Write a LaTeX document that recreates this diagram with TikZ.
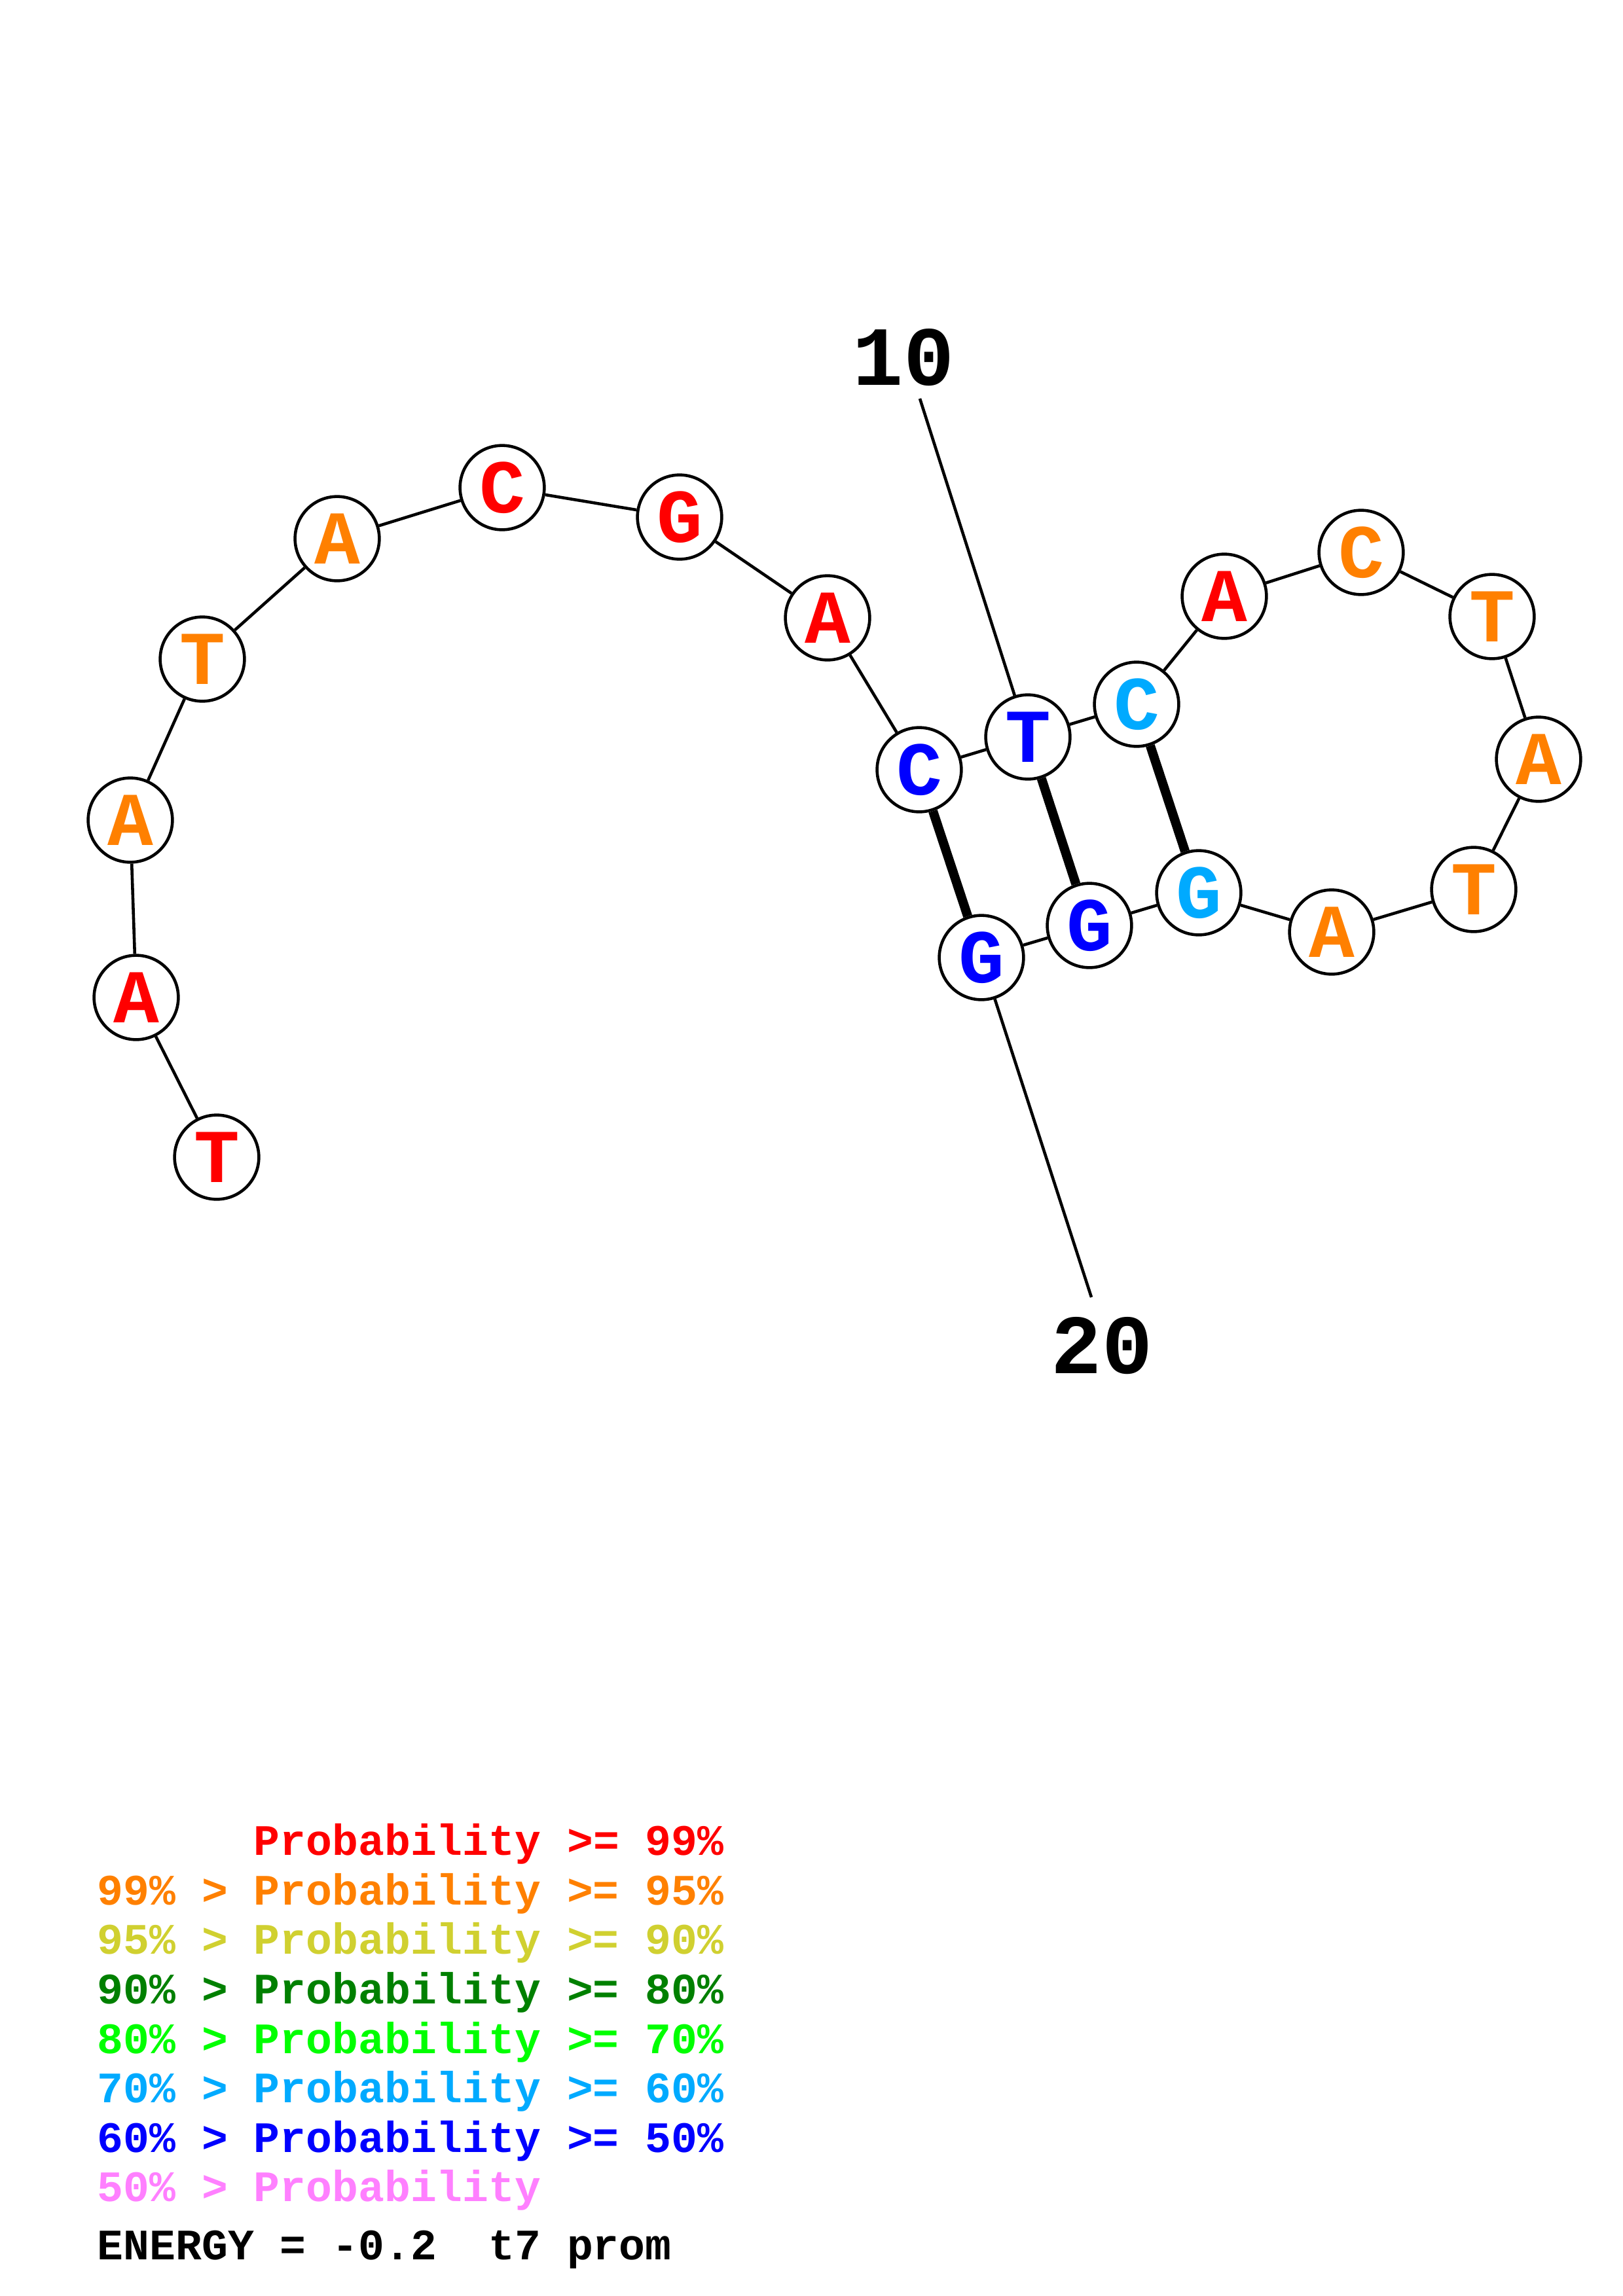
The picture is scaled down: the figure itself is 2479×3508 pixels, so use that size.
\documentclass[tikz,border=0pt]{standalone}
\usepackage{fontspec}
\setmainfont{Liberation Mono}
\usepackage{tikz}

\definecolor{pr99}{RGB}{255,0,0}
\definecolor{pr95}{RGB}{255,128,0}
\definecolor{pr90}{RGB}{208,208,48}
\definecolor{pr80}{RGB}{0,128,0}
\definecolor{pr70}{RGB}{0,255,0}
\definecolor{pr60}{RGB}{0,170,255}
\definecolor{pr50}{RGB}{0,0,255}
\definecolor{pr00}{RGB}{255,128,255}

\begin{document}
\begin{tikzpicture}[x=0.0846667mm, y=-0.0846667mm,
        base/.style={draw, circle, line width=1.1pt, fill=white, inner sep=0pt, minimum size=10.9mm, font=\bfseries\fontsize{28}{28}\selectfont},
        num/.style={font=\bfseries\fontsize{31}{31}\selectfont, inner sep=0pt},
        legend/.style={anchor=base west, inner sep=0pt, font=\bfseries\fontsize{16}{16}\selectfont}]
                \useasboundingbox (0,0) rectangle (2479,3508);
                \foreach \i / \x / \y / \b / \c in {1/331/1768/T/pr99, 2/208/1524/A/pr99, 3/199/1253/A/pr95, 4/309/1007/T/pr95,
                        5/515/823/A/pr95, 6/767/745/C/pr99, 7/1038/790/G/pr99, 8/1264/944/A/pr99, 9/1404/1176/C/pr50,
                        10/1570/1126/T/pr50, 11/1736/1076/C/pr60, 12/1870/911/A/pr99, 13/2079/844/C/pr95, 14/2279/942/T/pr95,
                        15/2350/1160/A/pr95, 16/2251/1359/T/pr95, 17/2034/1424/A/pr95, 18/1831/1364/G/pr60, 19/1664/1414/G/pr50,
                        20/1499/1463/G/pr50}
                    \node[base, text=\c] (n\i) at (\x, \y) {\b};
                \foreach \i [count=\j from 2] in {1,...,19}
                    \draw[line width=1.1pt] (n\i) -- (n\j);
                \foreach \u / \v in {n9/n20, n10/n19, n11/n18}
                    \draw[line width=3.4pt] (\u) -- (\v);
                \node[num] (lab10) at (1380, 546) {10};
                \coordinate (tip10) at (1405, 609);
                \draw[line width=1.1pt] (tip10) -- (n10);
                \node[num] (lab20) at (1683, 2056) {20};
                \coordinate (tip20) at (1667, 1982);
                \draw[line width=1.1pt] (n20) -- (tip20);
                % legend
                \node[legend, text=pr99] (leg1) at (148, 2834) {\hphantom{99\% > }Probability >= 99\%};
                \node[legend, text=pr95] (leg2) at (148, 2910) {99\% > Probability >= 95\%};
                \node[legend, text=pr90] (leg3) at (148, 2985) {95\% > Probability >= 90\%};
                \node[legend, text=pr80] (leg4) at (148, 3061) {90\% > Probability >= 80\%};
                \node[legend, text=pr70] (leg5) at (148, 3137) {80\% > Probability >= 70\%};
                \node[legend, text=pr60] (leg6) at (148, 3212) {70\% > Probability >= 60\%};
                \node[legend, text=pr50] (leg7) at (148, 3288) {60\% > Probability >= 50\%};
                \node[legend, text=pr00] (leg8) at (148, 3363) {50\% > Probability};
                \node[legend] (energy) at (148, 3452) {ENERGY = -0.2~ t7 prom};
            \end{tikzpicture}
\end{document}
